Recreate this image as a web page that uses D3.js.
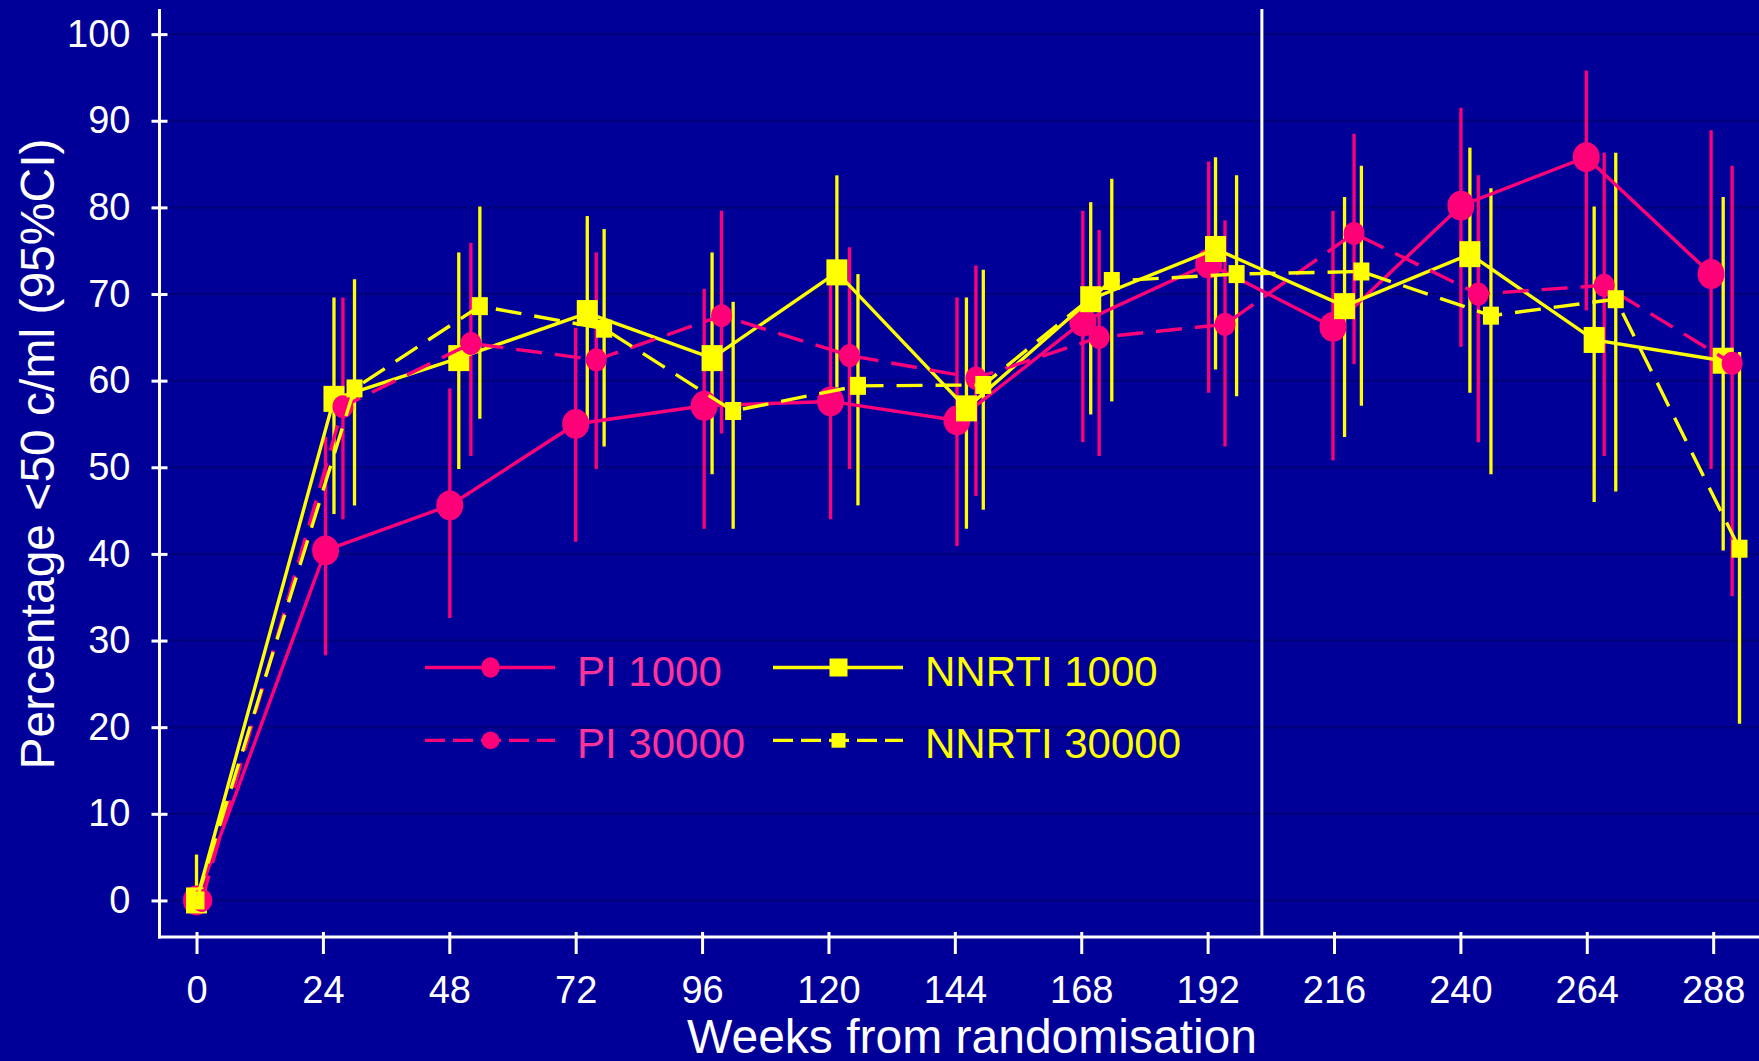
<!DOCTYPE html>
<html>
<head>
<meta charset="utf-8">
<script src="https://cdn.jsdelivr.net/npm/d3@7"></script>
<style>
html, body { margin: 0; padding: 0; background: #000099; overflow: hidden; }
text { font-family: "Liberation Sans", Arial, Helvetica, sans-serif; }
</style>
</head>
<body>
<div id="chart"></div>
<script>
// tick labels
var xTicks = [0, 24, 48, 72, 96, 120, 144, 168, 192, 216, 240, 264, 288];
var yTicks = [0, 10, 20, 30, 40, 50, 60, 70, 80, 90, 100];
var cutWeek = 202.3; // vertical reference line

// PI, 1000 c/ml
var pi1000Week = [0, 24.5, 48.1, 72.0, 96.4, 120.4, 144.4, 168.3, 192.2, 215.8, 240.1, 263.9, 287.6];
var pi1000Pct  = [0, 40.4, 45.6, 55.0, 57.1, 57.6, 55.4, 66.8, 73.5, 66.2, 80.2, 85.8, 72.3];
var pi1000Lo   = [0, 28.3, 32.6, 41.4, 42.9, 44.0, 40.9, 52.9, 58.6, 50.8, 63.9, 68.1, 49.8];
var pi1000Hi   = [0, 53.5, 59.1, 66.1, 70.6, 71.5, 69.6, 79.6, 85.3, 79.6, 91.5, 95.8, 88.9];

// NNRTI, 1000 c/ml
var nn1000Week = [0, 26.1, 49.8, 74.2, 97.9, 121.6, 146.2, 169.8, 193.5, 218.0, 241.8, 265.4, 289.9];
var nn1000Pct  = [0, 57.9, 62.6, 67.8, 62.6, 72.5, 56.8, 69.4, 75.2, 68.6, 74.6, 64.7, 62.3];
var nn1000Lo   = [0, 44.6, 49.8, 55.0, 49.2, 59.2, 42.9, 56.1, 61.3, 53.5, 58.6, 46.0, 40.4];
var nn1000Hi   = [5.3, 69.6, 74.8, 79.0, 74.8, 83.7, 69.6, 80.6, 85.8, 81.2, 86.9, 80.1, 81.2];

// PI, 30000 c/ml
var pi30000Week = [1, 27.8, 52.1, 75.9, 99.7, 124.0, 148.0, 171.4, 195.3, 219.8, 243.4, 267.3, 291.6];
var pi30000Pct  = [0, 57.0, 64.3, 62.4, 67.5, 62.9, 60.3, 65.0, 66.5, 77.0, 70.0, 71.0, 62.0];
var pi30000Lo   = [0, 44.0, 51.3, 49.8, 53.9, 49.8, 46.7, 51.3, 52.4, 61.9, 52.9, 51.3, 35.1];
var pi30000Hi   = [0, 69.6, 75.9, 74.8, 79.6, 75.4, 73.3, 77.4, 78.5, 88.5, 83.7, 86.3, 84.8];

// NNRTI, 30000 c/ml
var nn30000Week = [0, 30.0, 53.8, 77.4, 101.9, 125.6, 149.4, 173.8, 197.5, 221.2, 245.8, 269.5, 293.0];
var nn30000Pct  = [0, 59.1, 68.6, 66.0, 56.5, 59.4, 59.5, 71.5, 72.3, 72.6, 67.5, 69.4, 40.6];
var nn30000Lo   = [0, 45.6, 55.6, 52.4, 42.9, 45.6, 45.1, 57.6, 58.2, 57.1, 49.2, 47.2, 20.4];
var nn30000Hi   = [0, 71.7, 80.1, 77.5, 69.1, 72.3, 72.8, 83.3, 83.7, 84.8, 82.2, 86.3, 63.3];

var pink = "#ff0078", yellow = "#ffff00";

function rows(w, p, lo, hi) {
    return w.map(function (d, i) { return { week: d, pct: p[i], lo: lo[i], hi: hi[i] }; });
}

var series = [
    { name: "PI 1000", color: pink, dash: null, marker: "circle", rx: 13.5, ry: 15, data: rows(pi1000Week, pi1000Pct, pi1000Lo, pi1000Hi) },
    { name: "NNRTI 1000", color: yellow, dash: null, marker: "square", rx: 10.5, ry: 13, data: rows(nn1000Week, nn1000Pct, nn1000Lo, nn1000Hi) },
    { name: "PI 30000", color: pink, dash: "26,13", marker: "circle", rx: 10.5, ry: 11.5, data: rows(pi30000Week, pi30000Pct, pi30000Lo, pi30000Hi) },
    { name: "NNRTI 30000", color: yellow, dash: "26,13", marker: "square", rx: 8, ry: 9, data: rows(nn30000Week, nn30000Pct, nn30000Lo, nn30000Hi) }
];

var width = 1759, height = 1061;

var svg = d3.select("#chart").append("svg")
    .attr("width", width)
    .attr("height", height);

svg.append("rect").attr("width", width).attr("height", height).attr("fill", "#000099");

var x = d3.scaleLinear().domain([-7.03, 296.7]).range([159.5, 1759]);
var y = d3.scaleLinear().domain([-4.22, 102.9]).range([937, 9]);

// horizontal grid
svg.append("g").selectAll("line")
    .data(yTicks)
    .enter().append("line")
    .attr("x1", 168).attr("x2", width)
    .attr("y1", function (d) { return y(d); })
    .attr("y2", function (d) { return y(d); })
    .attr("stroke", "#00007c")
    .attr("stroke-width", 2.5);

// axes
var yAxis = svg.append("g")
    .attr("transform", "translate(167.5,0)")
    .call(d3.axisLeft(y).tickValues(yTicks).tickSize(16).tickPadding(21));
var xAxis = svg.append("g")
    .attr("transform", "translate(0,932)")
    .call(d3.axisBottom(x).tickValues(xTicks).tickSize(22).tickPadding(22));

[yAxis, xAxis].forEach(function (g) {
    g.select(".domain").remove();
    g.selectAll(".tick line").attr("stroke", "#fff").attr("stroke-width", 3);
    g.selectAll(".tick text").attr("fill", "#fff").style("font-size", "38px");
});

svg.append("line")
    .attr("x1", 159.5).attr("x2", 159.5).attr("y1", 9).attr("y2", 938.5)
    .attr("stroke", "#fff").attr("stroke-width", 3);
svg.append("line")
    .attr("x1", 158).attr("x2", width).attr("y1", 937).attr("y2", 937)
    .attr("stroke", "#fff").attr("stroke-width", 3);

// reference line
svg.append("line")
    .attr("x1", x(cutWeek)).attr("x2", x(cutWeek))
    .attr("y1", 9).attr("y2", 937)
    .attr("stroke", "#fff").attr("stroke-width", 3);

// axis titles
svg.append("text")
    .attr("x", 972).attr("y", 1053)
    .attr("text-anchor", "middle")
    .attr("fill", "#fff")
    .style("font-size", "48px")
    .text("Weeks from randomisation");

svg.append("text")
    .attr("transform", "translate(54,454) rotate(-90)")
    .attr("text-anchor", "middle")
    .attr("fill", "#fff")
    .style("font-size", "48px")
    .text("Percentage <50 c/ml (95%CI)");

// error bars first
var bars = svg.append("g");
series.forEach(function (s) {
    bars.selectAll(null)
        .data(s.data.filter(function (d) { return d.hi > d.lo; }))
        .enter().append("line")
        .attr("x1", function (d) { return x(d.week); })
        .attr("x2", function (d) { return x(d.week); })
        .attr("y1", function (d) { return y(d.lo); })
        .attr("y2", function (d) { return y(d.hi); })
        .attr("stroke", s.color)
        .attr("stroke-width", 3.3);
});

var line = d3.line()
    .x(function (d) { return x(d.week); })
    .y(function (d) { return y(d.pct); });

function drawMarker(g, s, data, px, py) {
    if (s.marker === "circle") {
        g.selectAll(null).data(data).enter().append("ellipse")
            .attr("cx", px).attr("cy", py)
            .attr("rx", s.rx).attr("ry", s.ry)
            .attr("fill", s.color);
    } else {
        g.selectAll(null).data(data).enter().append("rect")
            .attr("x", function (d) { return px(d) - s.rx; })
            .attr("y", function (d) { return py(d) - s.ry; })
            .attr("width", s.rx * 2).attr("height", s.ry * 2)
            .attr("fill", s.color);
    }
}

series.forEach(function (s) {
    var g = svg.append("g");
    g.append("path")
        .datum(s.data)
        .attr("d", line)
        .attr("fill", "none")
        .attr("stroke", s.color)
        .attr("stroke-width", 3.4)
        .attr("stroke-dasharray", s.dash);
    drawMarker(g, s, s.data,
        function (d) { return x(d.week); },
        function (d) { return y(d.pct); });
});

// legend
var legendRows = [
    { s: series[0], lx: 425, ty: 667.5, text: "#ff3399", mrx: 9.2, mry: 10.2 },
    { s: series[2], lx: 425, ty: 740.4, text: "#ff3399", mrx: 9, mry: 8.8 },
    { s: series[1], lx: 773, ty: 667.5, text: yellow, mrx: 9, mry: 9 },
    { s: series[3], lx: 773, ty: 740.4, text: yellow, mrx: 7, mry: 7.3 }
];
var legend = svg.append("g");
legendRows.forEach(function (r) {
    var g = legend.append("g");
    g.append("line")
        .attr("x1", r.lx).attr("x2", r.lx + 130)
        .attr("y1", r.ty).attr("y2", r.ty)
        .attr("stroke", r.s.color)
        .attr("stroke-width", 3.3)
        .attr("stroke-dasharray", r.s.dash ? "20,8" : null);
    var ms = { marker: r.s.marker, color: r.s.color, rx: r.mrx, ry: r.mry };
    drawMarker(g, ms, [0], function () { return r.lx + 65.5; }, function () { return r.ty; });
    g.append("text")
        .attr("x", r.lx + 152).attr("y", r.ty + 18)
        .attr("fill", r.text)
        .style("font-size", "42px")
        .text(r.s.name);
});
</script>
</body>
</html>
